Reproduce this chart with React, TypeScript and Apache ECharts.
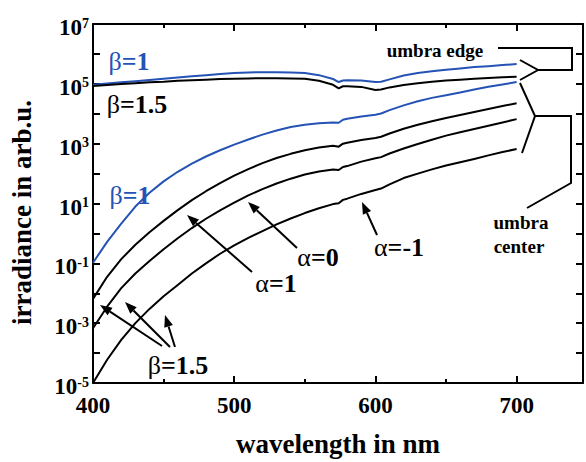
import React, { useEffect, useRef } from "react";
import * as echarts from "echarts";

const wavelengths = [400, 410, 420, 430, 440, 450, 460, 470, 480, 490, 500, 510, 520, 530, 540, 550, 560, 570, 574, 577, 580, 590, 600, 604, 610, 620, 630, 640, 650, 660, 670, 680, 690, 700];

// umbra edge (irradiance, arb.u.)
const edgeBeta1 = [9.3e4, 1.02e5, 1.12e5, 1.23e5, 1.35e5, 1.48e5, 1.62e5, 1.78e5, 1.95e5, 2.14e5, 2.29e5, 2.4e5, 2.45e5, 2.45e5, 2.4e5, 2.29e5, 1.95e5, 1.45e5, 1.15e5, 1.29e5, 1.32e5, 1.29e5, 1.15e5, 1.17e5, 1.41e5, 1.9e5, 2.29e5, 2.63e5, 2.95e5, 3.24e5, 3.63e5, 3.89e5, 4.27e5, 4.57e5];
const edgeBeta15 = [8.5e4, 9.1e4, 9.8e4, 1.05e5, 1.12e5, 1.17e5, 1.26e5, 1.32e5, 1.38e5, 1.45e5, 1.48e5, 1.51e5, 1.55e5, 1.55e5, 1.51e5, 1.48e5, 1.26e5, 9.3e4, 7.1e4, 8.3e4, 8.3e4, 7.9e4, 6.2e4, 6.5e4, 7.6e4, 9.1e4, 1.05e5, 1.17e5, 1.29e5, 1.38e5, 1.48e5, 1.58e5, 1.66e5, 1.74e5];
// umbra center (irradiance, arb.u.)
const centerBeta1 = [0.105, 0.52, 2.14, 7.9, 22.9, 55, 115, 214, 372, 603, 933, 1380, 2000, 2750, 3630, 4270, 4790, 5130, 5010, 6310, 6760, 8130, 9330, 1.02e4, 1.32e4, 1.91e4, 2.63e4, 3.39e4, 4.17e4, 5.13e4, 6.46e4, 7.94e4, 9.55e4, 1.15e5];
const centerAlpha1 = [6.5e-3, 0.0355, 0.138, 0.417, 1.1, 2.63, 6.0, 12.9, 25.7, 47.9, 85, 141, 224, 331, 457, 603, 741, 851, 794, 1000, 1070, 1320, 1550, 1700, 2190, 3160, 4270, 5620, 7240, 9120, 1.15e4, 1.45e4, 1.82e4, 2.24e4];
const centerAlpha0 = [6.8e-4, 3.55e-3, 0.0148, 0.0457, 0.12, 0.295, 0.69, 1.51, 3.09, 5.9, 10.7, 18.6, 30.2, 46.8, 67.6, 93.3, 117, 138, 132, 166, 178, 251, 324, 355, 468, 692, 977, 1350, 1860, 2400, 3090, 3980, 5130, 6610];
const centerAlphaM1 = [1e-5, 6.0e-5, 2.75e-4, 1.0e-3, 3.0e-3, 7.9e-3, 0.019, 0.0457, 0.1, 0.209, 0.398, 0.708, 1.2, 2.0, 3.16, 4.79, 6.92, 9.55, 10.2, 13.2, 14.5, 20.9, 28.2, 31.6, 43.7, 70.8, 100, 138, 186, 240, 309, 407, 525, 660];

const xTicks = [400, 500, 600, 700];

const BLUE = "#2552b5";
const SERIF = "Liberation Serif";

function pairs(vals: number[]) {
  return wavelengths.map((w, i) => [w, vals[i]]);
}

function arrow(x1: number, y1: number, x2: number, y2: number) {
  const dx = x2 - x1, dy = y2 - y1;
  const len = Math.sqrt(dx * dx + dy * dy);
  const ux = dx / len, uy = dy / len;
  const hl = 12, hw = 4.5;
  const bx = x2 - ux * hl, by = y2 - uy * hl;
  return [
    { type: "line", shape: { x1, y1, x2: bx, y2: by }, style: { stroke: "#000", lineWidth: 2 } },
    {
      type: "polygon",
      shape: { points: [[x2, y2], [bx - uy * hw, by + ux * hw], [bx + uy * hw, by - ux * hw]] },
      style: { fill: "#000" },
    },
  ];
}

function label(x: number, y: number, sym: string, rest: string, color: string, size = 26) {
  return {
    type: "text",
    x,
    y,
    style: {
      text: `{g|${sym}}{b|${rest}}`,
      align: "center",
      verticalAlign: "middle",
      fill: color,
      rich: {
        g: { fontFamily: SERIF, fontSize: size, fontWeight: "normal", fill: color },
        b: { fontFamily: SERIF, fontSize: size, fontWeight: "bold", fill: color },
      },
    },
  };
}

function plain(x: number, y: number, text: string, size: number) {
  return {
    type: "text",
    x,
    y,
    style: {
      text,
      align: "center",
      verticalAlign: "middle",
      fill: "#000",
      fontFamily: SERIF,
      fontWeight: "bold",
      fontSize: size,
    },
  };
}

function line(points: number[][]) {
  return { type: "polyline", shape: { points }, style: { stroke: "#000", lineWidth: 2, fill: null } };
}

export default function App() {
  const ref = useRef<HTMLDivElement>(null);
  useEffect(() => {
    if (!ref.current) return;
    const chart = echarts.init(ref.current, null, { renderer: "svg" });
    const yLabel = (v: number) => {
      const e = Math.round(Math.log10(v));
      return Math.abs(e) % 2 === 1 ? `{b|10}{s|${e}}` : "";
    };
    const xAxisBase = {
      type: "value",
      min: 400,
      max: 747,
      interval: 100,
      axisLine: { show: true, lineStyle: { color: "#000", width: 2 } },
      axisTick: { show: true, inside: true, length: 7, lineStyle: { color: "#000", width: 2 } },
      minorTick: { show: true, splitNumber: 2, length: 4, lineStyle: { color: "#000", width: 2 } },
      splitLine: { show: false },
      minorSplitLine: { show: false },
    };
    const yAxisBase = {
      type: "log",
      logBase: 10,
      min: 1e-5,
      max: 1e7,
      interval: 1,
      axisLine: { show: true, lineStyle: { color: "#000", width: 2 } },
      axisTick: { show: true, inside: true, length: 7, lineStyle: { color: "#000", width: 2 } },
      splitLine: { show: false },
    };
    const lineSeries = (name: string, vals: number[], color: string) => ({
      name,
      type: "line",
      data: pairs(vals),
      showSymbol: false,
      smooth: false,
      lineStyle: { color, width: 2, join: "round" },
      itemStyle: { color },
    });
    chart.setOption({
      animation: false,
      backgroundColor: "#fff",
      textStyle: { fontFamily: SERIF },
      grid: { left: 92, top: 24, right: 3, bottom: 71 },
      xAxis: [
        {
          ...xAxisBase,
          position: "bottom",
          name: "wavelength in nm",
          nameLocation: "middle",
          nameGap: 47,
          nameTextStyle: { fontFamily: SERIF, fontSize: 27, fontWeight: "bold", color: "#000" },
          axisLabel: {
            show: true,
            margin: 11,
            fontFamily: SERIF,
            fontSize: 23,
            fontWeight: "bold",
            color: "#000",
            formatter: (v: number) => (xTicks.includes(v) ? String(v) : ""),
          },
        },
        { ...xAxisBase, position: "top", axisLabel: { show: false } },
      ],
      yAxis: [
        {
          ...yAxisBase,
          position: "left",
          name: "irradiance in arb.u.",
          nameLocation: "middle",
          nameGap: 58,
          nameTextStyle: { fontFamily: SERIF, fontSize: 27, fontWeight: "bold", color: "#000", padding: [0, 18, 0, 0] },
          axisLabel: {
            show: true,
            margin: 4,
            padding: [7, 0, 0, 0],
            fontFamily: SERIF,
            fontWeight: "bold",
            color: "#000",
            formatter: yLabel,
            rich: {
              b: { fontFamily: SERIF, fontSize: 23, fontWeight: "bold", color: "#000" },
              s: { fontFamily: SERIF, fontSize: 14, fontWeight: "bold", color: "#000", verticalAlign: "top" },
            },
          },
        },
        { ...yAxisBase, position: "right", axisLabel: { show: false } },
      ],
      series: [
        lineSeries("edge β=1", edgeBeta1, BLUE),
        lineSeries("edge β=1.5", edgeBeta15, "#000"),
        lineSeries("center β=1", centerBeta1, BLUE),
        lineSeries("center α=1", centerAlpha1, "#000"),
        lineSeries("center α=0", centerAlpha0, "#000"),
        lineSeries("center α=-1", centerAlphaM1, "#000"),
      ],
      graphic: [
        label(129, 61, "β", "=1", BLUE),
        label(137, 104, "β", "=1.5", "#000"),
        label(130, 195, "β", "=1", BLUE),
        label(276, 283, "α", "=1", "#000"),
        label(318, 257, "α", "=0", "#000"),
        label(399, 247, "α", "=-1", "#000"),
        label(178, 365, "β", "=1.5", "#000"),
        plain(435, 50, "umbra edge", 19),
        plain(521, 222, "umbra", 19),
        plain(519, 246, "center", 19),
        line([[498, 48], [572, 48], [572, 70], [537, 70]]),
        line([[520, 60], [538, 70], [520, 80]]),
        line([[520, 83], [535, 116], [522, 153]]),
        line([[535, 116], [571, 116], [571, 183], [527, 208]]),
        ...arrow(252, 272, 187, 215),
        ...arrow(297, 248, 248, 202),
        ...arrow(377, 235, 362, 202),
        ...arrow(162, 346, 100, 305),
        ...arrow(170, 347, 125, 302),
        ...arrow(175, 347, 165, 315),
      ],
    });
    return () => chart.dispose();
  }, []);
  return <div ref={ref} style={{ position: "absolute", left: 0, top: 0, width: 586, height: 462 }} />;
}
